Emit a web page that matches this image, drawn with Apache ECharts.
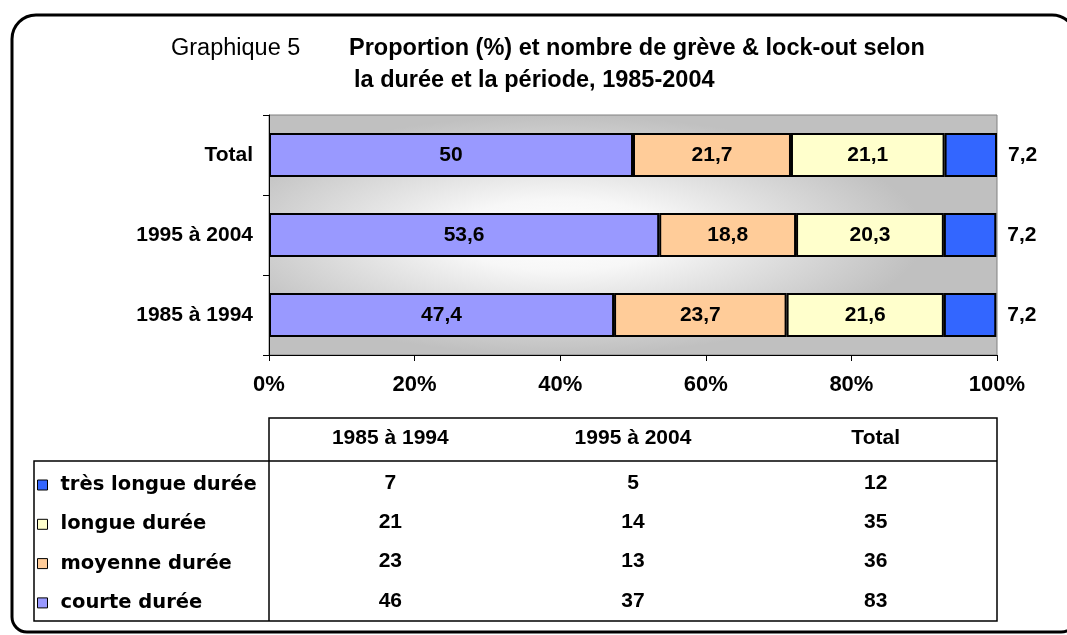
<!DOCTYPE html>
<html>
<head>
<meta charset="utf-8">
<script src="https://cdn.jsdelivr.net/npm/echarts@6/dist/echarts.min.js"></script>
<style>
  html, body { margin: 0; padding: 0; background: #fff; }
  #chart { width: 1067px; height: 635px; }
</style>
</head>
<body>
<div id="chart"></div>
<script>
// periods, top to bottom
const periods = ['Total', '1995 à 2004', '1985 à 1994'];
// proportion (%) per duration, same order as periods
const courte = [50, 53.6, 47.4];
const moyenne = [21.7, 18.8, 23.7];
const longue = [21.1, 20.3, 21.6];
const tresLongue = [7.2, 7.2, 7.2];

// table below the chart
const tableHeaders = ['1985 à 1994', '1995 à 2004', 'Total'];
const tableRows = ['très longue durée', 'longue durée', 'moyenne durée', 'courte durée'];
const countTresLongue = [7, 5, 12];
const countLongue = [21, 14, 35];
const countMoyenne = [23, 13, 36];
const countCourte = [46, 37, 83];

const xTicks = [0, 20, 40, 60, 80, 100];

const FONT = '"Liberation Sans", Arial, sans-serif';
const colors = {
  'courte durée': '#9999ff',
  'moyenne durée': '#ffcc99',
  'longue durée': '#ffffcc',
  'très longue durée': '#3366ff'
};

// layout
const gridLeft = 269, gridTop = 115, gridW = 728, gridH = 240;
const tblTop = 418, tblHead = 461, tblBottom = 621, tblLeft = 34;
const rowH = 39.3;

const chart = echarts.init(document.getElementById('chart'));

const fmt = (v) => String(v).replace('.', ',');

function barSeries(name, data, last) {
  return {
    name: name,
    type: 'bar',
    stack: 'total',
    data: data,
    barWidth: '55%',
    itemStyle: { color: colors[name], borderColor: '#000', borderWidth: 2 },
    label: {
      show: true,
      position: last ? 'right' : 'inside',
      distance: 11,
      formatter: (p) => fmt(p.value),
      color: '#000',
      fontFamily: FONT,
      fontWeight: 'bold',
      fontSize: 21
    }
  };
}

// gradient background of plot area (elliptical, light centre)
const sy = 105 / 320;
const bgRect = {
  type: 'rect',
  x: gridLeft,
  y: gridTop,
  scaleY: sy,
  z: -1,
  silent: true,
  shape: { x: 0, y: 0, width: gridW, height: gridH / sy },
  style: {
    fill: new echarts.graphic.RadialGradient(0.4, 0.5, 0.5, [
      { offset: 0, color: '#ffffff' },
      { offset: 0.3, color: '#f7f7f7' },
      { offset: 1, color: '#c0c0c0' }
    ])
  }
};

const frame = {
  type: 'rect',
  silent: true,
  shape: { x: 12, y: 15, width: 1064, height: 617, r: [24, 24, 15, 15] },
  style: { fill: 'none', stroke: '#000', lineWidth: 3 }
};

const lineStyle = { stroke: '#000', lineWidth: 1.5 };
const tableLines = [
  [[gridLeft, tblHead], [gridLeft, tblTop], [gridLeft + gridW, tblTop], [gridLeft + gridW, tblBottom],
   [tblLeft, tblBottom], [tblLeft, tblHead], [gridLeft + gridW, tblHead]],
  [[gridLeft, tblHead], [gridLeft, tblBottom]]
].map((pts) => ({ type: 'polyline', silent: true, shape: { points: pts }, style: lineStyle }));

const colW = gridW / tableHeaders.length;
function cellText(text, cx, cy) {
  return {
    type: 'text',
    silent: true,
    style: {
      text: String(text), x: cx, y: cy,
      align: 'center', verticalAlign: 'middle',
      font: 'bold 21px ' + FONT, fill: '#000'
    }
  };
}

const tableTexts = [];
tableHeaders.forEach((h, i) => {
  tableTexts.push(cellText(h, gridLeft + colW * (i + 0.5), (tblTop + tblHead) / 2 - 1));
});
[countTresLongue, countLongue, countMoyenne, countCourte].forEach((row, r) => {
  row.forEach((v, i) => {
    tableTexts.push(cellText(v, gridLeft + colW * (i + 0.5), 483 + rowH * r));
  });
});

const titleStyle = (w) => ({ fontFamily: FONT, fontWeight: w, fontSize: 23.5, color: '#000' });

chart.setOption({
  animation: false,
  title: [
    { text: 'Graphique 5', left: 171, top: 37, padding: 0, textStyle: titleStyle('normal') },
    { text: 'Proportion (%) et nombre de grève & lock-out selon', left: 349, top: 37, padding: 0, textStyle: titleStyle('bold') },
    { text: 'la durée et la période, 1985-2004', left: 354, top: 69, padding: 0, textStyle: titleStyle('bold') }
  ],
  legend: {
    orient: 'vertical',
    left: 37,
    top: 475,
    padding: 0,
    itemGap: 19.3,
    itemWidth: 10,
    itemHeight: 10,
    icon: 'rect',
    data: tableRows,
    itemStyle: { borderColor: '#000', borderWidth: 1 },
    textStyle: {
      fontFamily: '"DejaVu Sans", Verdana, sans-serif',
      fontWeight: 'bold',
      fontSize: 19.5,
      lineHeight: 20,
      padding: [0, 0, 0, 8],
      color: '#000'
    },
    selectedMode: false
  },
  grid: {
    left: gridLeft,
    top: gridTop,
    width: gridW,
    height: gridH,
    show: true,
    backgroundColor: 'transparent',
    borderColor: '#808080',
    borderWidth: 1
  },
  xAxis: {
    type: 'value',
    min: xTicks[0],
    max: xTicks[xTicks.length - 1],
    interval: xTicks[1] - xTicks[0],
    splitLine: { show: false },
    axisLine: { show: true, lineStyle: { color: '#000', width: 1 } },
    axisTick: { show: true, length: 6, lineStyle: { color: '#000' } },
    axisLabel: {
      formatter: '{value}%',
      margin: 19,
      color: '#000',
      fontFamily: FONT,
      fontWeight: 'bold',
      fontSize: 22
    }
  },
  yAxis: {
    type: 'category',
    data: periods,
    inverse: true,
    axisLine: { show: true, lineStyle: { color: '#000', width: 1 } },
    axisTick: { show: true, length: 6, alignWithLabel: false, lineStyle: { color: '#000' } },
    axisLabel: {
      margin: 16,
      color: '#000',
      fontFamily: FONT,
      fontWeight: 'bold',
      fontSize: 21
    }
  },
  graphic: [bgRect, frame].concat(tableLines, tableTexts),
  series: [
    barSeries('courte durée', courte, false),
    barSeries('moyenne durée', moyenne, false),
    barSeries('longue durée', longue, false),
    barSeries('très longue durée', tresLongue, true)
  ]
});
</script>
</body>
</html>
